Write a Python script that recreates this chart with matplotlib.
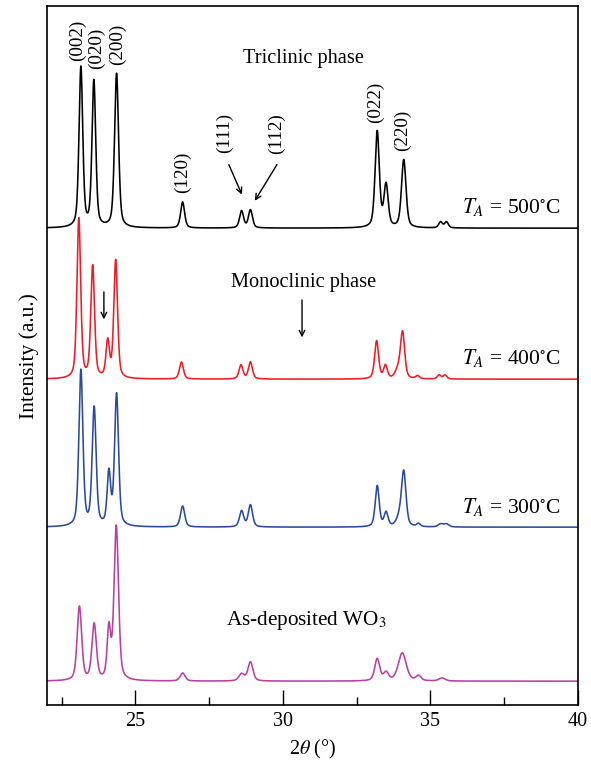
import numpy as np
import matplotlib
matplotlib.use("Agg")
import matplotlib.pyplot as plt
from matplotlib.ticker import MultipleLocator

plt.rcParams['font.family'] = ['Liberation Serif', 'DejaVu Serif']
plt.rcParams['mathtext.fontset'] = 'stix'

# ---- data: peak positions (2theta, deg), heights (a.u.), widths (FWHM, deg) ----
offsets = {"500": 477, "400": 326, "300": 178, "asdep": 24}

pos_500 = [23.15, 23.59, 24.36, 26.60, 28.60, 28.90, 33.20, 33.50, 34.10, 35.35, 35.55]
hgt_500 = [160, 146, 154, 26, 17, 18, 96, 42, 68, 6, 6]
wid_500 = [0.15, 0.15, 0.16, 0.16, 0.16, 0.16, 0.17, 0.17, 0.18, 0.15, 0.15]

pos_400 = [23.08, 23.55, 24.06, 24.33, 26.56, 28.58, 28.90, 33.18, 33.48, 33.90, 34.06, 34.57, 35.30, 35.50]
hgt_400 = [160, 112, 36, 118, 17, 14, 17, 38, 13, 8, 46, 3, 4, 4]
wid_400 = [0.15, 0.15, 0.14, 0.15, 0.16, 0.16, 0.16, 0.16, 0.15, 0.22, 0.17, 0.15, 0.15, 0.15]

pos_300 = [23.15, 23.60, 24.10, 24.36, 26.60, 28.60, 28.90, 33.20, 33.50, 33.95, 34.10, 34.60, 35.35, 35.55]
hgt_300 = [156, 118, 52, 132, 21, 16, 22, 41, 14, 8, 54, 3, 3, 3]
wid_300 = [0.16, 0.16, 0.14, 0.16, 0.17, 0.17, 0.17, 0.16, 0.16, 0.24, 0.18, 0.15, 0.2, 0.2]

pos_asd = [23.10, 23.60, 24.10, 24.35, 26.60, 28.60, 28.90, 33.20, 33.50, 34.05, 34.60, 35.40]
hgt_asd = [74, 56, 50, 154, 8, 7, 19, 22, 8, 28, 5, 3]
wid_asd = [0.18, 0.18, 0.14, 0.18, 0.2, 0.22, 0.2, 0.2, 0.2, 0.32, 0.2, 0.25]

colors = {"500": "#000000", "400": "#ee1c24", "300": "#2b4a9e", "asdep": "#b8409f"}

theta = np.linspace(22.0, 40.0, 3601)


def pattern(pos, hgt, wid):
    y = np.zeros_like(theta)
    for p, h, w in zip(pos, hgt, wid):
        g = np.exp(-4 * np.log(2) * (theta - p) ** 2 / w ** 2)
        l = 1.0 / (1 + 4 * (theta - p) ** 2 / w ** 2)
        y += h * (0.55 * g + 0.45 * l)
    return y


fig = plt.figure(figsize=(5.91, 7.69), dpi=100)
ax = fig.add_axes([0.0795, 0.083, 0.898, 0.909])

series = [("500", pos_500, hgt_500, wid_500),
          ("400", pos_400, hgt_400, wid_400),
          ("300", pos_300, hgt_300, wid_300),
          ("asdep", pos_asd, hgt_asd, wid_asd)]
for key, p, h, w in series:
    ax.plot(theta, pattern(p, h, w) + offsets[key], color=colors[key], lw=1.15)

ax.set_xlim(22, 40)
ax.set_ylim(0, 699)
ax.xaxis.set_major_locator(MultipleLocator(5))
ax.xaxis.set_minor_locator(MultipleLocator(2.5))
ax.tick_params(axis='x', which='major', direction='in', length=11, width=1.0, labelsize=14.5, pad=5)
ax.tick_params(axis='x', which='minor', direction='in', length=6, width=1.0)
ax.set_yticks([])
for s in ax.spines.values():
    s.set_linewidth(1.2)

ax.set_xlabel(r'2$\theta$ (°)', fontsize=14.5, labelpad=5)
ax.set_ylabel('Intensity (a.u.)', fontsize=15.5, labelpad=6)

fs = 14.7
# peak labels
peak_labels = [("(002)", 23.03, 665), ("(020)", 23.67, 657), ("(200)", 24.4, 661),
               ("(120)", 26.6, 533), ("(111)", 28.03, 572), ("(112)", 29.8, 572),
               ("(022)", 33.13, 603), ("(220)", 34.07, 575)]
for t, x, y in peak_labels:
    ax.text(x, y, t, rotation=90, ha='center', va='center', fontsize=13.8)

ax.annotate('', xy=(28.65, 508), xytext=(28.13, 543),
            arrowprops=dict(arrowstyle='->', lw=1.0, color='black'))
ax.annotate('', xy=(29.0, 502), xytext=(29.85, 543),
            arrowprops=dict(arrowstyle='->', lw=1.0, color='black'))
ax.annotate('', xy=(23.93, 383), xytext=(23.93, 416),
            arrowprops=dict(arrowstyle='->', lw=1.0, color='black'))
ax.annotate('', xy=(30.65, 365), xytext=(30.65, 408),
            arrowprops=dict(arrowstyle='->', lw=1.0, color='black'))

ax.text(30.7, 647, 'Triclinic phase', ha='center', va='center', fontsize=fs)
ax.text(30.7, 423, 'Monoclinic phase', ha='center', va='center', fontsize=fs)
ax.text(30.8, 85, r'As-deposited WO$_3$', ha='center', va='center', fontsize=15.2)

ax.text(39.45, 498, r'$T_A$ = 500$^{\circ}$C', ha='right', va='center', fontsize=15.5)
ax.text(39.45, 347, r'$T_A$ = 400$^{\circ}$C', ha='right', va='center', fontsize=15.5)
ax.text(39.45, 198, r'$T_A$ = 300$^{\circ}$C', ha='right', va='center', fontsize=15.5)

fig.savefig('out.png', dpi=100)
